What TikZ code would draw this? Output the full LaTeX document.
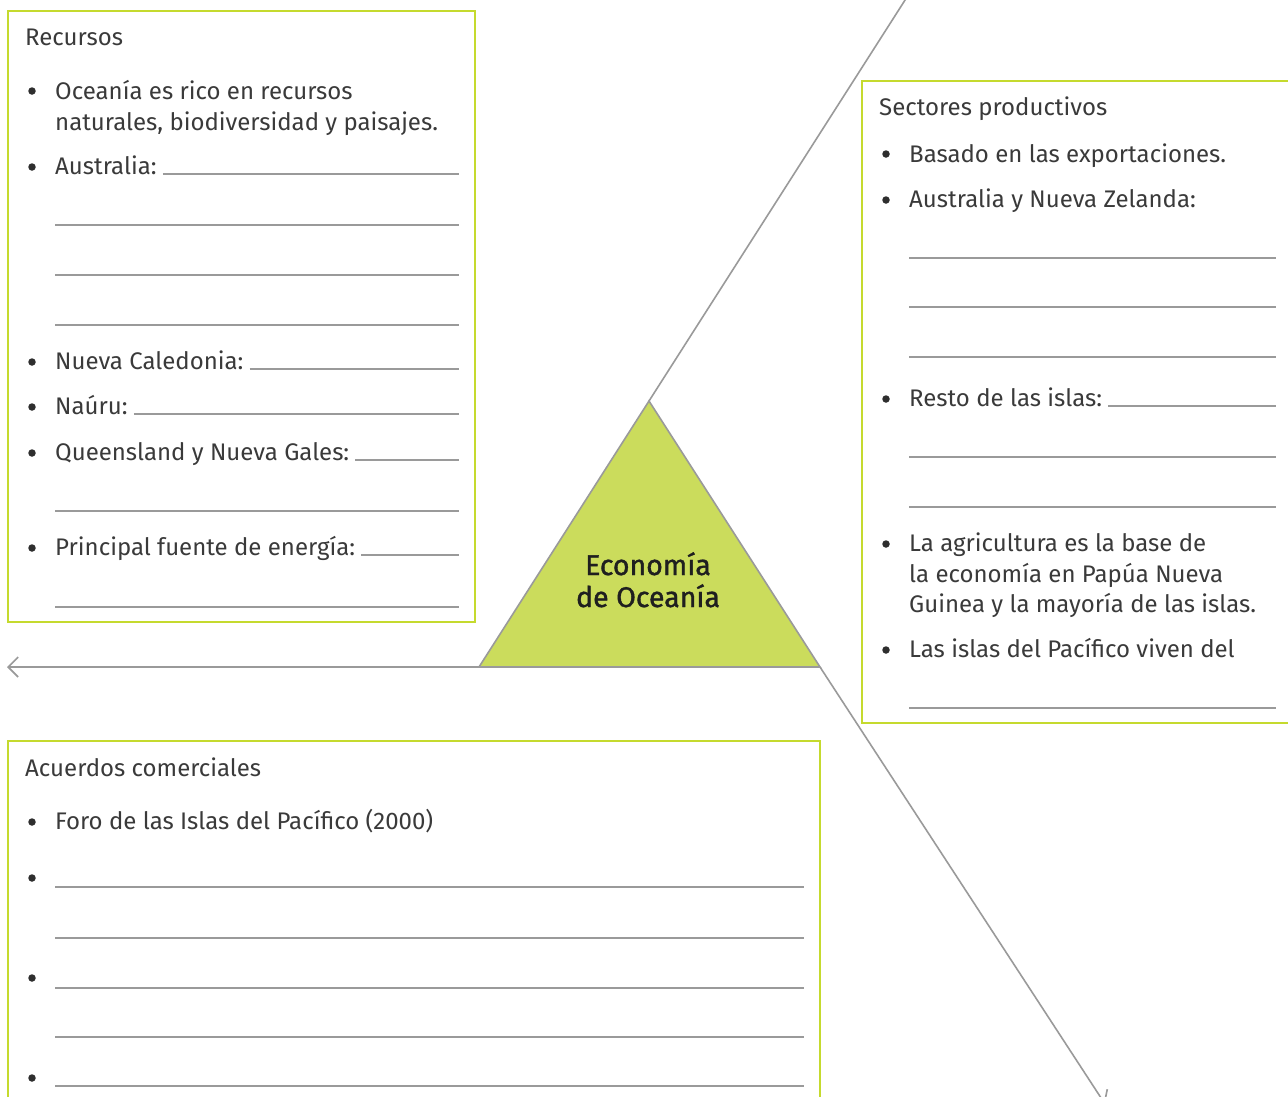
\documentclass[tikz,border=0pt]{standalone}
\usepackage{fontspec}
\setmainfont{Fira Sans}
\newfontfamily\medfont{Fira Sans}[FakeBold=1.3]
\usetikzlibrary{arrows.meta}
\definecolor{boxgreen}{HTML}{C5DA2E}
\definecolor{trifill}{HTML}{CBDC5C}
\definecolor{linegray}{HTML}{9A9A9A}
\definecolor{txt}{HTML}{3A3A3A}
\begin{document}
\begin{tikzpicture}[x=1pt,y=-1pt,
  txtnode/.style={anchor=base west, inner sep=0pt, font=\fontsize{24}{30}\selectfont, text=txt},
  bulletdot/.style={circle, fill=txt!80!black, inner sep=0pt, minimum size=7.5pt},
  blank/.style={draw=linegray, line width=1.3pt},
  frame/.style={draw=boxgreen, line width=2.2pt},
  conn/.style={draw=linegray, line width=1.6pt},
  titletext/.style={inner sep=0pt, font=\fontsize{28.5}{32}\medfont, text=black!88, align=center}]
\useasboundingbox (0,0) rectangle (1288,1096);
\fill[white] (0,0) rectangle (1288,1096);

% ---------- frames ----------
\draw[frame] (8,11) rectangle (475,622);
\draw[frame] (862,81) rectangle (1300,723);
\draw[frame] (8,741) rectangle (820,1110);

% ---------- triangle and connectors ----------
\coordinate (apex) at (649,401);
\coordinate (bl) at (479,667);
\coordinate (br) at (820,667);
\coordinate (leftend) at (7,667);
\coordinate (topend) at (907,-3);
\coordinate (brend) at (1105,1104);
\draw[conn, -{Straight Barb[length=10pt,width=20pt,line width=1.6pt]}] (bl) -- (leftend);
\draw[conn] (apex) -- (topend);
\draw[conn, -{Straight Barb[length=10pt,width=20pt,line width=1.6pt]}] (br) -- (brend);
\filldraw[fill=trifill, draw=linegray, line width=1.6pt, line join=miter] (apex) -- (bl) -- (br) -- cycle;
\node[titletext, anchor=base] (t1) at (648,575) {Economía};
\node[titletext, anchor=base] (t2) at (648,607) {de Oceanía};

% ---------- Recursos ----------
\node[txtnode] (rtitle) at (25,45) {Recursos};
\node[bulletdot] (rb1) at (32,91) {};
\node[txtnode] (r1a) at (55,99) {Oceanía es rico en recursos};
\node[txtnode] (r1b) at (55,130) {naturales, biodiversidad y paisajes.};
\node[bulletdot] (rb2) at (32,167) {};
\node[txtnode] (r2) at (55,174) {Australia:};
\draw[blank] ([xshift=6pt]r2.base east) -- (459,174);
\draw[blank] (55,225) -- (459,225);
\draw[blank] (55,275) -- (459,275);
\draw[blank] (55,325) -- (459,325);
\node[bulletdot] (rb3) at (32,362) {};
\node[txtnode] (r3) at (55,369) {Nueva Caledonia:};
\draw[blank] ([xshift=6pt]r3.base east) -- (459,369);
\node[bulletdot] (rb4) at (32,407) {};
\node[txtnode] (r4) at (55,414) {Naúru:};
\draw[blank] ([xshift=6pt]r4.base east) -- (459,414);
\node[bulletdot] (rb5) at (32,453) {};
\node[txtnode] (r5) at (55,460) {Queensland y Nueva Gales:};
\draw[blank] ([xshift=6pt]r5.base east) -- (459,460);
\draw[blank] (55,511) -- (459,511);
\node[bulletdot] (rb6) at (32,548) {};
\node[txtnode] (r6) at (55,555) {Principal fuente de energía:};
\draw[blank] ([xshift=6pt]r6.base east) -- (459,555);
\draw[blank] (55,607) -- (459,607);

% ---------- Sectores productivos ----------
\node[txtnode] (stitle) at (879,115) {Sectores productivos};
\node[bulletdot] (sb1) at (886,154) {};
\node[txtnode] (s1) at (909,162) {Basado en las exportaciones.};
\node[bulletdot] (sb2) at (886,200) {};
\node[txtnode] (s2) at (909,207) {Australia y Nueva Zelanda:};
\draw[blank] (909,258) -- (1276,258);
\draw[blank] (909,307) -- (1276,307);
\draw[blank] (909,357) -- (1276,357);
\node[bulletdot] (sb3) at (886,399) {};
\node[txtnode] (s3) at (909,406) {Resto de las islas:};
\draw[blank] ([xshift=6pt]s3.base east) -- (1276,406);
\draw[blank] (909,457) -- (1276,457);
\draw[blank] (909,507) -- (1276,507);
\node[bulletdot] (sb4) at (886,544) {};
\node[txtnode] (s4a) at (909,551) {La agricultura es la base de};
\node[txtnode] (s4b) at (909,582) {la economía en Papúa Nueva};
\node[txtnode] (s4c) at (909,612) {Guinea y la mayoría de las islas.};
\node[bulletdot] (sb5) at (886,650) {};
\node[txtnode] (s5) at (909,657) {Las islas del Pacífico viven del};
\draw[blank] (909,708) -- (1276,708);

% ---------- Acuerdos comerciales ----------
\node[txtnode] (atitle) at (25,776) {Acuerdos comerciales};
\node[bulletdot] (ab1) at (32,822) {};
\node[txtnode] (a1) at (55,829) {Foro de las Islas del Pacífico (2000)};
\node[bulletdot] (ab2) at (32,878) {};
\draw[blank] (55,887) -- (804,887);
\draw[blank] (55,938) -- (804,938);
\node[bulletdot] (ab3) at (32,978) {};
\draw[blank] (55,988) -- (804,988);
\draw[blank] (55,1037) -- (804,1037);
\node[bulletdot] (ab4) at (32,1078) {};
\draw[blank] (55,1086) -- (804,1086);
\end{tikzpicture}
\end{document}
